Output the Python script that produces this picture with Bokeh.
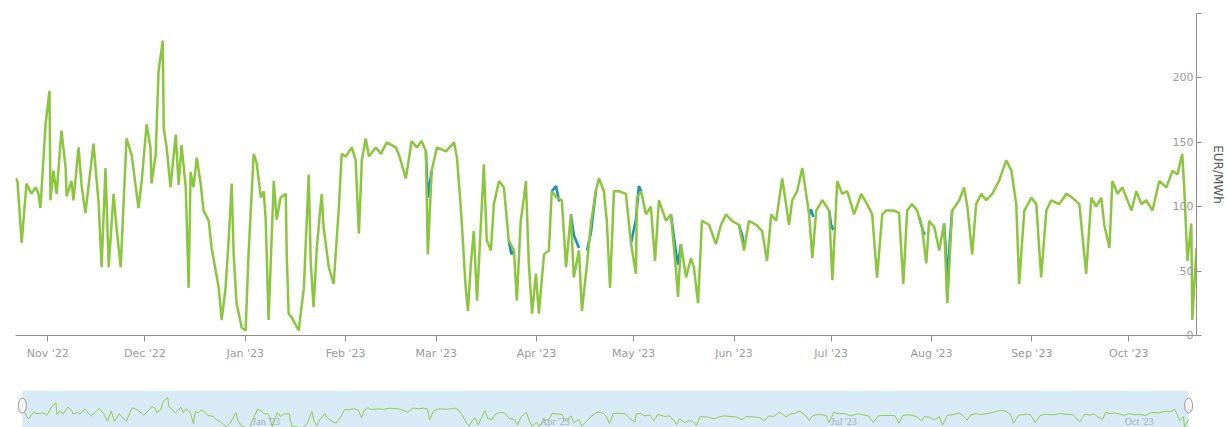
from datetime import datetime, timedelta
import numpy as np
from bokeh.plotting import figure
from bokeh.layouts import column
from bokeh.models import (Range1d, DatetimeTickFormatter, MonthsTicker, FixedTicker,
                          ColumnDataSource, LabelSet, Grid)
from bokeh.embed import file_html
from bokeh.resources import INLINE

START = datetime(2022, 10, 22)
SPAN_DAYS = 364.9

# day offsets from START and price (EUR/MWh) of the green series
day = [0, 0.6, 1.9, 3.4, 4.9, 6.2, 7.1, 7.7, 9.3, 10.5, 10.8, 11.7, 12.7, 14.2, 15.5, 15.8, 17.3, 17.9, 19.5, 20.4,
       21.6, 24.1, 25.7, 26.6, 27.8, 28.8, 30.3, 31.2, 32.5, 34.3, 35.9, 38.0, 39.0, 40.5, 41.7, 42.0, 43.3, 44.2, 45.5, 45.8,
       46.7, 47.9, 49.5, 50.4, 51.3, 52.6, 53.5, 54.1, 55.0, 56.0, 57.2, 58.1, 59.7, 60.6, 62.8, 63.7, 64.9, 65.9, 66.8, 67.4,
       68.3, 69.9, 71.1, 72.0, 73.6, 74.5, 75.8, 76.7, 77.3, 78.2, 79.8, 80.7, 81.9, 83.5, 83.8, 84.4, 85.3, 87.5, 89.1, 90.6,
       91.2, 92.1, 93.1, 94.6, 95.2, 96.8, 98.3, 99.9, 100.8, 102.0, 103.9, 105.1, 106.1, 107.0, 108.2, 109.2, 111.3, 112.9, 114.7, 117.5,
       118.4, 120.6, 122.4, 124.0, 125.5, 126.8, 127.4, 128.6, 130.2, 133.0, 135.5, 136.4, 137.6, 139.1, 139.8, 140.7, 141.6, 142.6, 143.8, 144.7,
       145.6, 146.9, 147.8, 149.4, 150.9, 152.4, 154.0, 154.9, 156.1, 157.1, 157.7, 158.6, 159.6, 160.8, 161.7, 163.3, 164.8, 165.7, 167.3, 168.8,
       170.1, 171.6, 172.5, 174.1, 175.0, 176.6, 177.8, 179.3, 180.3, 181.8, 182.7, 183.7, 184.9, 186.5, 188.6, 190.2, 191.7, 192.0, 193.3, 194.8,
       196.3, 197.6, 198.8, 201.0, 202.5, 204.1, 204.7, 205.6, 207.2, 208.7, 209.6, 210.9, 212.1, 214.3, 216.4, 218.0, 219.5, 221.4, 223.5, 225.1,
       226.6, 228.8, 230.7, 232.2, 233.5, 235.0, 236.9,
       239.0, 240.0, 241.5, 243.1, 244.3, 245.2, 246.2, 247.4, 249.3, 251.4, 252.4, 253.9, 255.4, 257.0, 259.1, 261.3, 263.1, 264.7, 266.2, 267.8,
       269.0, 271.5, 273.0, 274.3, 275.5, 277.0, 278.6, 280.1, 281.4, 282.3, 283.9, 285.4, 286.9, 287.9, 289.4, 291.6, 293.1, 294.1, 295.6, 296.8,
       298.4, 299.9, 301.8, 303.9, 306.1, 307.7, 309.2, 310.1, 311.7, 313.9, 315.4, 316.9, 318.5, 320.0, 322.5, 324.7, 326.5, 328.7, 330.8, 332.4,
       333.9, 335.5, 336.4, 338.0, 338.9, 340.5, 342.0, 344.8, 346.3, 347.9, 349.4, 351.3, 353.4, 355.6, 357.5, 359.0, 360.5, 361.1, 362.1, 363.3,
       363.6, 364.9]
price = [122, 120, 72, 118, 110, 115, 110, 99, 164, 190, 105, 128, 110, 159, 130, 108, 120, 105, 146, 117,
         95, 149, 102, 53, 130, 53, 110, 84, 53, 153, 140, 99, 120, 164, 146, 118, 140, 205, 229, 161,
         146, 115, 156, 117, 148, 115, 37, 127, 115, 138, 118, 97, 89, 68, 37, 12, 37, 76, 118, 63,
         25, 6, 4, 63, 141, 134, 107, 112, 90, 12, 120, 90, 107, 110, 63, 17, 14, 4, 37, 125,
         58, 22, 68, 110, 84, 53, 40, 99, 141, 139, 146, 136, 79, 136, 153, 139, 146, 141, 150, 146,
         141, 122, 151, 146, 151, 143, 63, 128, 146, 143, 150, 138, 99, 37, 19, 56, 81, 27, 87, 133,
         74, 66, 102, 120, 115, 74, 66, 27, 89, 107, 120, 56, 17, 48, 17, 63, 66, 112, 107, 105,
         53, 94, 45, 66, 19, 56, 87, 112, 122, 112, 89, 37, 112, 112, 110, 71, 48, 107, 112, 94,
         100, 58, 105, 89, 94, 50, 30, 71, 45, 60, 53, 25, 89, 86, 71, 86, 94, 89, 86, 66,
         89, 86, 81, 58, 94, 89, 122,
         86, 105, 112, 130, 110, 94, 60, 97, 105, 97, 43, 120, 110, 112, 94, 110, 102, 94, 45, 94,
         97, 97, 95, 40, 97, 102, 97, 84, 56, 89, 84, 66, 87, 25, 97, 105, 115, 100, 63, 102,
         110, 105, 110, 120, 136, 128, 102, 40, 97, 107, 102, 45, 97, 105, 102, 110, 107, 102, 48, 107,
         100, 107, 86, 68, 120, 110, 115, 97, 112, 102, 105, 97, 120, 115, 128, 125, 141, 115, 58, 87,
         12, 68]

# second (blue) series: only where it departs from the green one (NaN = gap)
nan = float("nan")
blue_day = [126.8, 127.4, 128.6, nan, 152.4, 153.2, 154.0, nan, 165.7, 167.0, 168.0, nan,
            171.6, 172.5, 174.1, nan, 176.6, 177.8, 179.3, nan, 190.2, 191.7, 192.6, 193.3, nan,
            202.5, 204.1, 204.7, 205.6, nan, 223.5, 224.5, 225.1, nan, 245.2, 245.8, 246.5, nan,
            251.4, 252.0, 252.7, nan, 279.2, 280.1, 280.8, nan, 286.9, 287.6, 287.9, 288.6, 289.4]
blue_price = [143, 107, 128, nan, 74, 63, 66, nan, 112, 116, 104, nan,
              94, 78, 68, nan, 66, 80, 112, nan, 72, 90, 116, 112, nan,
              94, 64, 55, 71, nan, 86, 78, 70, nan, 94, 98, 92, nan,
              97, 86, 82, nan, 92, 84, 78, nan, 87, 60, 28, 70, 97]

y_ticks = [0, 50, 100, 150, 200]
y_top_tick = [250]
nav_label_dates = [datetime(2023, 1, 1), datetime(2023, 4, 1), datetime(2023, 7, 1), datetime(2023, 10, 1)]
nav_labels = ["Jan '23", "Apr '23", "Jul '23", "Oct '23"]

GREEN = "#8cc63f"
BLUE = "#1b8fb8"
AXIS = "#8f8f8f"
LABEL = "#9a9a9a"
FONT = "DejaVu Sans"

t = [START + timedelta(days=d) for d in day]
bt = [START + timedelta(days=d) if d == d else np.nan for d in blue_day]
END = START + timedelta(days=SPAN_DAYS)

W = 1228
p = figure(width=W, height=385, x_axis_type="datetime",
           x_range=Range1d(START, END), y_range=Range1d(0, 250),
           y_axis_location="right", output_backend="svg", toolbar_location=None,
           min_border_left=15, min_border_right=30, min_border_top=13, min_border_bottom=50)
p.outline_line_color = None
p.xgrid.visible = False
p.ygrid.visible = False

p.line(bt, blue_price, line_color=BLUE, line_width=2.6)
p.line(t, price, line_color=GREEN, line_width=2.5)

xa = p.xaxis[0]
xa.ticker = MonthsTicker(months=list(range(12)))
xa.formatter = DatetimeTickFormatter(months="%b '%y", days="%b '%y", years="%b '%y")
xa.axis_line_color = AXIS
xa.major_tick_line_color = AXIS
xa.major_tick_out = 6
xa.major_tick_in = 0
xa.minor_tick_line_color = None
xa.major_label_text_color = LABEL
xa.major_label_text_font = FONT
xa.major_label_text_font_size = "11px"
xa.major_label_standoff = 5

ya = p.yaxis[0]
ya.ticker = FixedTicker(ticks=y_ticks, minor_ticks=y_top_tick)
ya.axis_line_color = AXIS
ya.major_tick_line_color = AXIS
ya.major_tick_out = 5
ya.major_tick_in = 0
ya.minor_tick_line_color = AXIS
ya.minor_tick_out = 5
ya.minor_tick_in = 0
# labels drawn inside the plot, right-aligned against the axis line (figure spaces pad)
ya.major_label_overrides = {v: "\u2007" * (3 - len(str(v))) + str(v) for v in y_ticks}
ya.major_label_text_font = FONT
ya.major_label_text_font_size = "11px"
ya.major_label_text_color = LABEL
ya.major_label_standoff = -29
ya.axis_label = "EUR/MWh"
ya.axis_label_text_font = FONT
ya.axis_label_text_font_size = "12px"
ya.axis_label_text_font_style = "normal"
ya.axis_label_text_color = "#555555"
ya.axis_label_standoff = 15

# navigator
pad_l = timedelta(days=SPAN_DAYS * 7 / 1183)
pad_r = timedelta(days=SPAN_DAYS * 8 / 1183)
NAV_LO, NAV_HI = 8, 281
nav = figure(width=W, height=42, x_axis_type="datetime",
             x_range=Range1d(START - pad_l, END + pad_r), y_range=Range1d(NAV_LO, NAV_HI),
             x_axis_location=None, y_axis_location=None,
             output_backend="svg", toolbar_location=None,
             min_border_left=8, min_border_right=22, min_border_top=5, min_border_bottom=0)
nav.outline_line_color = None
nav.grid.visible = False
nav.quad(left=[START], right=[END], bottom=[NAV_LO], top=[NAV_HI], fill_color="#d8eaf5", line_color=None)
nav.add_layout(Grid(dimension=0, ticker=MonthsTicker(months=[0, 3, 6, 9]),
                    grid_line_color="#c4d8e6", grid_line_width=1))
nav.line(t, price, line_color=GREEN, line_width=1, line_alpha=0.9)
nsrc = ColumnDataSource(dict(x=nav_label_dates, y=[NAV_LO] * len(nav_labels), text=nav_labels))
nav.add_layout(LabelSet(x="x", y="y", text="text", source=nsrc, x_offset=3, y_offset=1,
                        text_align="left", text_baseline="bottom", text_font=FONT,
                        text_font_size="10px", text_color="#a0aeb8"))
nav.ellipse(x=[START, END], y=[(NAV_LO + NAV_HI) / 2 + 25] * 2, width=8, height=15,
            width_units="screen", height_units="screen",
            fill_color="#f4f4f4", line_color="#9a9a9a", line_width=1)

layout = column(p, nav, spacing=0)
open("out.html", "w").write(file_html(layout, INLINE))
